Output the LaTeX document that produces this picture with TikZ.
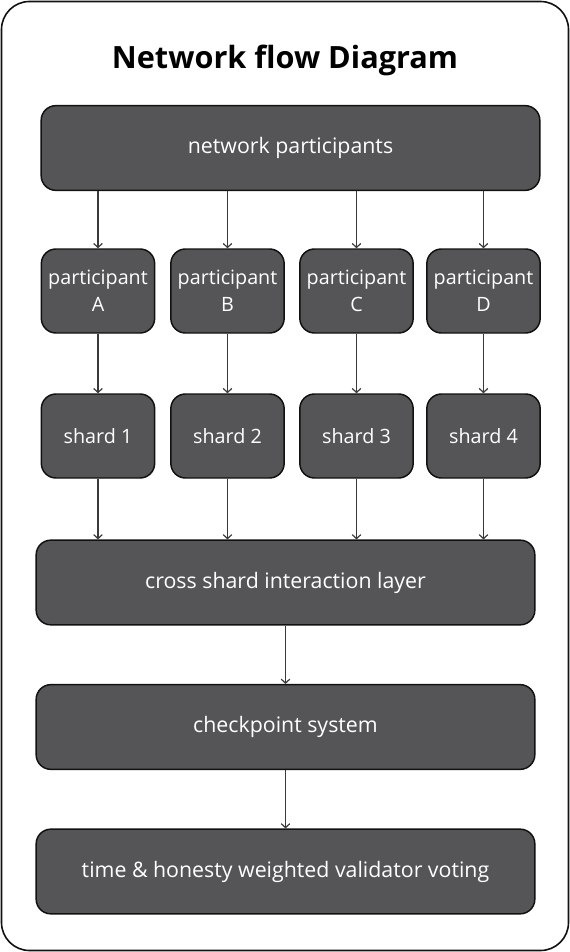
\documentclass[tikz,border=0pt]{standalone}
\usepackage{fontspec}
\setmainfont{Open Sans}
\usepackage{tikz}
\usetikzlibrary{arrows.meta,positioning,calc}
\definecolor{boxfill}{HTML}{555557}
\definecolor{ink}{HTML}{111111}
\definecolor{wire}{HTML}{3A3A3A}
\tikzset{
  wide/.style={draw=ink,line width=1.1pt,rounded corners=11pt,fill=boxfill,
    text=white,align=center,minimum width=374pt,minimum height=63.5pt,
    font=\fontsize{16}{19}\selectfont},
  small/.style={draw=ink,line width=1.1pt,rounded corners=11pt,fill=boxfill,
    text=white,align=center,minimum width=85pt,minimum height=63pt,
    inner sep=1pt,font=\fontsize{14.8}{20}\selectfont},
  arr/.style={-{Straight Barb[length=3pt,width=6.5pt]},line width=0.9pt,draw=wire}
}
\begin{document}
\begin{tikzpicture}[x=0.75pt,y=-0.75pt]
    \useasboundingbox (0,0) rectangle (570,952);
    \draw[ink,line width=1.2pt,rounded corners=21pt] (1.5,1.5) rectangle (568.5,950.5);
    \node[font=\fontsize{23}{28}\bfseries] (title) at (285,60) {Network flow Diagram};
    \node[wide] (net) at (290.5,148) {network participants};
    \foreach \n/\x in {A/98,B/227.5,C/356.5,D/483.5}
      \node[small] (p\n) at (\x,291) {participant\\\n};
    \foreach \n/\x/\k in {A/98/1,B/227.5/2,C/356.5/3,D/483.5/4}
      \node[small] (s\n) at (\x,436) {shard \k};
    \node[wide] (cross) at (285.5,582.5) {cross shard interaction layer};
    \node[wide] (check) at (285.5,727) {checkpoint system};
    \node[wide] (vote) at (285.5,871.5) {time \& honesty weighted validator voting};
    \foreach \n in {A,B,C,D} {
      \draw[arr] (net.south -| p\n) -- (p\n);
      \draw[arr] (p\n) -- (s\n);
      \draw[arr] (s\n) -- (cross.north -| s\n);
    }
    \draw[arr] (cross) -- (check);
    \draw[arr] (check) -- (vote);
  \end{tikzpicture}
\end{document}
